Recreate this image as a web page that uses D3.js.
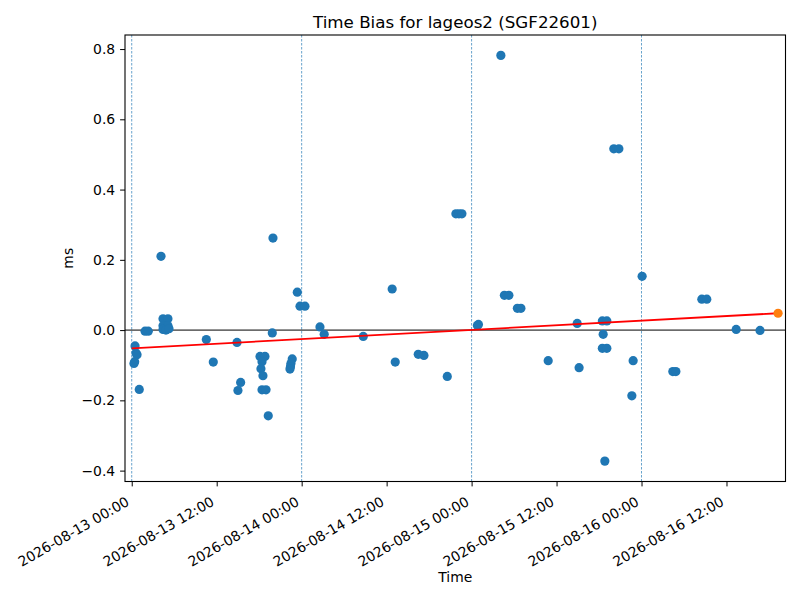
<html>
<head>
<meta charset="utf-8">
<script src="https://cdnjs.cloudflare.com/ajax/libs/d3/7.8.5/d3.min.js"></script>
<style>
body { margin: 0; background: #fff; }
text { font-family: "DejaVu Sans", sans-serif; fill: #000; }
</style>
</head>
<body>
<svg id="canvas" width="800" height="600"></svg>
<script>
var times = [
  '2026-08-13 00:28', '2026-08-13 00:36', '2026-08-13 00:45', '2026-08-13 00:25', '2026-08-13 00:19',
  '2026-08-13 01:04', '2026-08-13 01:53', '2026-08-13 02:20', '2026-08-13 04:08', '2026-08-13 04:25',
  '2026-08-13 05:07', '2026-08-13 04:25', '2026-08-13 05:07', '2026-08-13 04:25', '2026-08-13 04:50',
  '2026-08-13 05:16', '2026-08-13 10:32', '2026-08-13 11:31', '2026-08-13 14:52', '2026-08-13 15:23',
  '2026-08-13 15:00', '2026-08-13 18:07', '2026-08-13 18:49', '2026-08-13 18:24', '2026-08-13 18:15',
  '2026-08-13 18:32', '2026-08-13 18:24', '2026-08-13 18:58', '2026-08-13 19:17', '2026-08-13 19:57',
  '2026-08-13 19:51', '2026-08-13 22:40', '2026-08-13 22:29', '2026-08-13 22:25', '2026-08-13 22:21',
  '2026-08-13 23:23', '2026-08-13 23:46', '2026-08-14 00:28', '2026-08-14 02:35', '2026-08-14 03:11',
  '2026-08-14 08:42', '2026-08-14 12:47', '2026-08-14 13:13', '2026-08-14 16:28', '2026-08-14 17:16',
  '2026-08-14 20:34', '2026-08-14 21:47', '2026-08-14 22:13', '2026-08-14 22:38', '2026-08-15 00:49',
  '2026-08-15 00:58', '2026-08-15 04:08', '2026-08-15 04:38', '2026-08-15 05:16', '2026-08-15 06:28',
  '2026-08-15 06:58', '2026-08-15 10:49', '2026-08-15 14:55', '2026-08-15 15:11', '2026-08-15 18:28',
  '2026-08-15 19:06', '2026-08-15 18:35', '2026-08-15 18:28', '2026-08-15 19:06', '2026-08-15 18:49',
  '2026-08-15 20:05', '2026-08-15 20:48', '2026-08-15 22:49', '2026-08-15 22:38', '2026-08-16 00:05',
  '2026-08-16 04:25', '2026-08-16 04:51', '2026-08-16 08:31', '2026-08-16 09:13', '2026-08-16 13:22',
  '2026-08-16 16:44'
];
var bias = [
  -0.045, -0.065, -0.070, -0.090, -0.095,
  -0.169, -0.003, -0.003, 0.210, 0.032,
  0.032, 0.012, 0.012, 0.002, 0.000,
  0.004, -0.027, -0.091, -0.035, -0.149,
  -0.172, -0.075, -0.075, -0.090, -0.110,
  -0.130, -0.170, -0.170, -0.244, 0.262,
  -0.008, -0.082, -0.095, -0.104, -0.111,
  0.108, 0.068, 0.068, 0.009, -0.012,
  -0.018, 0.117, -0.091, -0.069, -0.072,
  -0.132, 0.331, 0.331, 0.331, 0.013,
  0.016, 0.782, 0.099, 0.099, 0.062,
  0.062, -0.087, 0.019, -0.107, 0.026,
  0.026, -0.012, -0.052, -0.052, -0.373,
  0.516, 0.516, -0.087, -0.187, 0.153,
  -0.118, -0.118, 0.088, 0.088, 0.002,
  -0.001
];
// linear fit and predicted point
var trendTimes = ['2026-08-13 00:00', '2026-08-16 19:17'];
var trendBias = [-0.052, 0.048];
var predTime = '2026-08-16 19:17';
var predBias = 0.048;

var xDomain = ['2026-08-12 23:03', '2026-08-16 20:20'];
var yDomain = [-0.431, 0.840];
var yTicks = [-0.4, -0.2, 0.0, 0.2, 0.4, 0.6, 0.8];

var parse = d3.utcParse('%Y-%m-%d %H:%M');
var svg = d3.select('#canvas');
var pLeft = 125, pRight = 785.5, pTop = 35, pBottom = 481.5;

var x = d3.scaleUtc().domain(xDomain.map(parse)).range([pLeft, pRight]);
var y = d3.scaleLinear().domain(yDomain).range([pBottom, pTop]);

var pts = times.map(function(t, i) { return {t: parse(t), v: bias[i]}; });

// day separators
svg.selectAll('.day')
  .data(x.ticks(d3.utcDay.every(1)))
  .enter().append('line')
  .attr('x1', function(d) { return x(d); })
  .attr('x2', function(d) { return x(d); })
  .attr('y1', pTop).attr('y2', pBottom)
  .style('stroke', '#1f77b4').style('stroke-width', 0.9)
  .style('stroke-dasharray', '2.5,1.5').style('opacity', 0.75);

// zero line
svg.append('line')
  .attr('x1', pLeft).attr('x2', pRight)
  .attr('y1', y(0)).attr('y2', y(0))
  .style('stroke', '#000').style('stroke-width', 1);

svg.selectAll('.pt')
  .data(pts)
  .enter().append('circle')
  .attr('class', 'pt')
  .attr('cx', function(d) { return x(d.t); })
  .attr('cy', function(d) { return y(d.v); })
  .attr('r', 4.6)
  .style('fill', '#1f77b4');

var trend = trendTimes.map(function(t, i) { return {t: parse(t), v: trendBias[i]}; });
svg.append('path')
  .datum(trend)
  .attr('d', d3.line().x(function(d) { return x(d.t); }).y(function(d) { return y(d.v); }))
  .style('fill', 'none').style('stroke', 'red').style('stroke-width', 1.8);

svg.append('circle')
  .attr('cx', x(parse(predTime)))
  .attr('cy', y(predBias))
  .attr('r', 4.6)
  .style('fill', '#ff7f0e');

// axes
var xAxis = d3.axisBottom(x)
  .ticks(d3.utcHour.every(12))
  .tickFormat(d3.utcFormat('%Y-%m-%d %H:%M'))
  .tickSize(4.9).tickSizeOuter(0);
var gx = svg.append('g').attr('transform', 'translate(0,' + pBottom + ')').call(xAxis);
gx.selectAll('text')
  .style('font-size', '13.9px')
  .attr('text-anchor', 'end')
  .attr('y', 0).attr('dy', 0)
  .attr('transform', 'translate(-2,23) rotate(-30)');

var yAxis = d3.axisLeft(y)
  .tickValues(yTicks)
  .tickFormat(d3.format('.1f'))
  .tickSize(4.9).tickSizeOuter(0);
var gy = svg.append('g').attr('transform', 'translate(' + pLeft + ',0)').call(yAxis);
gy.selectAll('text').style('font-size', '13.9px').attr('x', -9.8);

svg.selectAll('.domain').remove();
svg.selectAll('.tick line').style('stroke', '#000').style('stroke-width', 1);

// frame
svg.append('rect')
  .attr('x', pLeft).attr('y', pTop)
  .attr('width', pRight - pLeft).attr('height', pBottom - pTop)
  .style('fill', 'none').style('stroke', '#000').style('stroke-width', 1.1);

svg.append('text')
  .attr('x', (pLeft + pRight) / 2).attr('y', 27.5)
  .attr('text-anchor', 'middle')
  .style('font-size', '16.7px')
  .text('Time Bias for lageos2 (SGF22601)');

svg.append('text')
  .attr('x', (pLeft + pRight) / 2).attr('y', 582)
  .attr('text-anchor', 'middle')
  .style('font-size', '13.9px')
  .text('Time');

svg.append('text')
  .attr('transform', 'translate(73,' + (pTop + pBottom) / 2 + ') rotate(-90)')
  .attr('text-anchor', 'middle')
  .style('font-size', '13.9px')
  .text('ms');
</script>
</body>
</html>
